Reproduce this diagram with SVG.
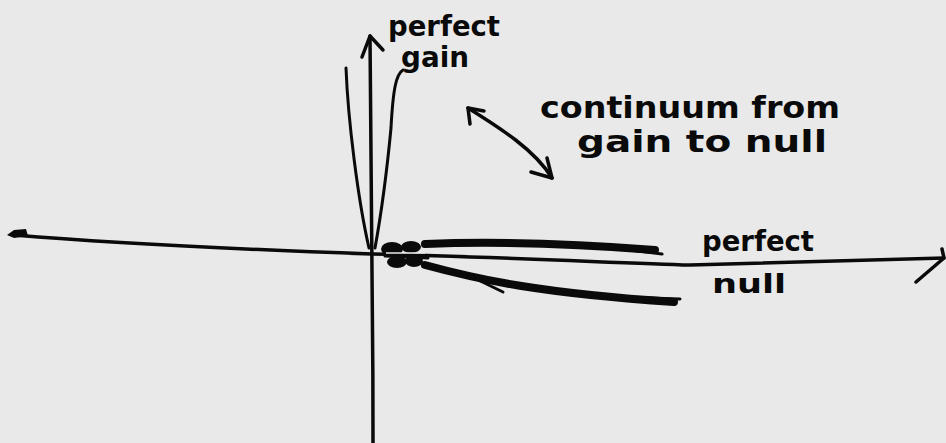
<svg xmlns="http://www.w3.org/2000/svg" width="946" height="443" viewBox="0 0 946 443">
<style>
.ink{fill:none;stroke:#0a0a0a;stroke-linecap:round;stroke-linejoin:round}
.thin{stroke-width:3}
.mid{stroke-width:3.5}
.thick{stroke-width:8}
.blob{fill:#0a0a0a}
.lbl{font-family:"DejaVu Sans","Liberation Sans",sans-serif;font-weight:bold;fill:#0a0a0a}
</style>
<rect width="946" height="443" fill="#e9e9e9"/>
<g id="axes">
  <path class="ink mid" d="M14,235 C120,244 260,250 372,254"/>
  <path d="M7,235 L14,230 L26,229 L28,236 L14,238 Z" fill="#0a0a0a"/>
  <path class="ink mid" d="M372,254 C500,257 620,263 690,265 C780,263 870,260 944,258"/>
  <path class="ink mid" d="M942,249 L944,258 L916,282"/>
  <path class="ink mid" d="M370,36 C371,150 373,300 373,443"/>
  <path class="ink mid" d="M362,57 L370,36 L383,50"/>
</g>
<g id="gain-lobe">
  <path class="ink thin" d="M346,68 C348,120 358,200 369,248"/>
  <path class="ink thin" d="M403,70 C396,74 393,90 391,128 C387,170 381,215 375,248"/>
</g>
<g id="null-lobes">
  <path class="ink thick" d="M425,244 C500,241 590,245 655,250"/>
  <path class="ink thin" d="M630,250 L662,254"/>
  <path class="ink thick" d="M425,265 C480,280 540,293 674,302"/>
  <path class="ink thin" d="M650,298 L680,299"/>
  <path class="ink thin" d="M470,276 L503,292"/>
  <path class="ink thin" d="M385,256 L428,258"/>
  <ellipse class="blob" cx="392" cy="249" rx="11" ry="7"/>
  <ellipse class="blob" cx="411" cy="247" rx="10" ry="6"/>
  <ellipse class="blob" cx="397" cy="262" rx="10" ry="6"/>
  <ellipse class="blob" cx="414" cy="261" rx="9" ry="6"/>
  <path d="M386,253 L425,253" stroke="#e9e9e9" stroke-width="1.5"/>
</g>
<g id="continuum-arrow">
  <path class="ink mid" d="M468,108 C500,128 535,150 552,178"/>
  <path class="ink mid" d="M470,124 L468,108 L484,111"/>
  <path class="ink mid" d="M531,172 L552,178 L547,158"/>
</g>
<g id="labels">
  <text class="lbl" x="388" y="36" font-size="28" textLength="112" lengthAdjust="spacingAndGlyphs">perfect</text>
  <text class="lbl" x="401" y="67" font-size="28" textLength="68" lengthAdjust="spacingAndGlyphs">gain</text>
  <text class="lbl" x="540" y="118" font-size="31" textLength="300" lengthAdjust="spacingAndGlyphs">continuum from</text>
  <text class="lbl" x="577" y="152" font-size="31" textLength="250" lengthAdjust="spacingAndGlyphs">gain to null</text>
  <text class="lbl" x="702" y="251" font-size="28" textLength="112" lengthAdjust="spacingAndGlyphs">perfect</text>
  <text class="lbl" x="712" y="293" font-size="26" textLength="74" lengthAdjust="spacingAndGlyphs">null</text>
</g>
</svg>
